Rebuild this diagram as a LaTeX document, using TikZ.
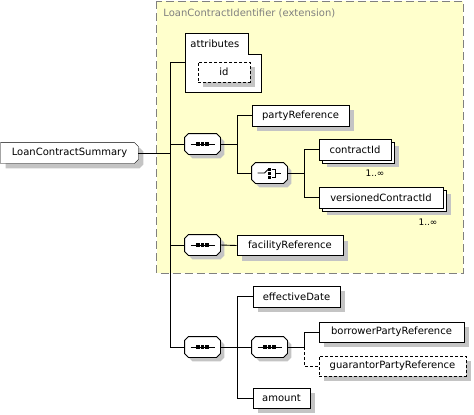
\documentclass[tikz,border=0pt]{standalone}
\usepackage{fontspec}
\setmainfont{DejaVu Sans}
\usetikzlibrary{calc,shadows,backgrounds}
\definecolor{ybg}{HTML}{FFFFCC}
\definecolor{shd}{HTML}{C4C4C4}
\definecolor{ttl}{HTML}{808080}
% octagon around a node: #1 node, #2 style, #3 offset
\newcommand\octbox[3]{%
  \path[#2] ($(#1.north west)+(0,4)+(#3)$) -- ($(#1.north west)+(4,0)+(#3)$) -- ($(#1.north east)+(-4,0)+(#3)$) -- ($(#1.north east)+(0,4)+(#3)$) -- ($(#1.south east)+(0,-4)+(#3)$) -- ($(#1.south east)+(-4,0)+(#3)$) -- ($(#1.south west)+(4,0)+(#3)$) -- ($(#1.south west)+(0,-4)+(#3)$) -- cycle;}
\newcommand\cmpbox[1]{\octbox{#1}{fill=shd}{4,4}\octbox{#1}{draw,fill=white}{0,0}}
\newcommand\seqsym[1]{%
  \cmpbox{#1}%
  \draw[line width=0.8pt] ($(#1.center)+(-12,0)$) -- ($(#1.center)+(12,0)$);
  \foreach \dx in {-4.5,0,4.5}{\fill ($(#1.center)+(\dx,0)+(-1.6,-1.6)$) rectangle ++(3.2,3.2);}}
\newcommand\chsym[1]{%
  \cmpbox{#1}%
  \draw[line width=0.8pt] ($(#1.center)+(-12,0)$) -- ($(#1.center)+(-5,0)$) -- ($(#1.center)+(-1.5,-3.5)$);
  \foreach \dy in {-4,0,4}{\fill ($(#1.center)+(0,\dy)+(-1.5,-1.5)$) rectangle ++(3,3);}
  \draw[line width=0.8pt] ($(#1.center)+(2,-4)$) -- ($(#1.center)+(6,-4)$) -- ($(#1.center)+(6,4)$) -- ($(#1.center)+(2,4)$);
  \draw[line width=0.8pt] ($(#1.center)+(6,0)$) -- ($(#1.center)+(11,0)$);}
\begin{document}
\begin{tikzpicture}[x=1pt,y=-1pt,line width=0.9pt,
  txt/.style={font=\fontsize{10}{12}\selectfont, text=black},
  elbase/.style={txt, draw, fill=white, minimum height=21pt, inner sep=0pt},
  el/.style={elbase, general shadow={fill=shd, shadow xshift=5pt, shadow yshift=-5pt}},
  multi/.style={elbase, general shadow={fill=shd, shadow xshift=8pt, shadow yshift=-7pt}, copy shadow={shadow xshift=3pt, shadow yshift=-3pt}},
  opt/.style={dash pattern=on 3pt off 2pt},
  cmp/.style={minimum width=35pt, minimum height=20pt, inner sep=0pt},
  card/.style={font=\fontsize{9}{10}\selectfont, text=black, inner sep=0pt}
]
\useasboundingbox (0,0) rectangle (474,415);
% extension box
\draw[draw=ttl, fill=ybg, line width=1pt, dash pattern=on 8pt off 4pt] (156.5,1) rectangle (463,273);
\node[anchor=west, font=\fontsize{10}{12}\selectfont, text=ttl, inner sep=0pt] (title) at (163,13) {LoanContractIdentifier (extension)};
% attributes
\draw[fill=white] (185,33) -- (248,33) -- (248,54) -- (261,54) -- (261,92) -- (185,92) -- cycle;
\node[txt, anchor=west, inner sep=0pt] (attrlbl) at (190,44) {attributes};
\coordinate (attr) at (185,62);
\node[el, opt, minimum width=52pt, minimum height=20pt] (id) at (224,72) {id};
% root
\node[txt, minimum width=137pt, minimum height=20pt, inner sep=0pt] (root) at (69.5,153) {LoanContractSummary};
\begin{scope}[on background layer]
\path[fill=shd] ($(root.north west)+(5,5)$) -- ($(root.north east)+(1,5)$) -- ($(root.north east)+(5,9)$) -- ($(root.south east)+(5,1)$) -- ($(root.south east)+(1,5)$) -- ($(root.south west)+(5,5)$) -- cycle;
\path[draw, fill=white] (root.north west) -- ($(root.north east)+(-4,0)$) -- ($(root.north east)+(0,4)$) -- ($(root.south east)+(0,-4)$) -- ($(root.south east)+(-4,0)$) -- (root.south west) -- cycle;
\end{scope}
% compositors
\node[cmp] (s1) at (202.5,144) {};
\node[cmp] (ch) at (269.5,173) {};
\node[cmp] (s2) at (202.5,245) {};
\node[cmp] (s3) at (202.5,347) {};
\node[cmp] (s4) at (269.5,347) {};
\seqsym{s1}\seqsym{s2}\seqsym{s3}\seqsym{s4}\chsym{ch}
% elements
\node[el, minimum width=97pt] (party) at (300.5,115.5) {partyReference};
\node[multi, minimum width=72pt] (cid) at (355,149.5) {contractId};
\node[multi, minimum width=124pt] (vcid) at (381,197.5) {versionedContractId};
\node[card] (c1) at (375,173) {1..∞};
\node[card] (c2) at (428,222) {1..∞};
\node[el, minimum width=106pt, minimum height=20pt] (fac) at (290,245.5) {facilityReference};
\node[el, minimum width=87pt] (eff) at (296.5,296.5) {effectiveDate};
\node[el, minimum width=145pt, minimum height=20pt] (bor) at (391.5,332) {borrowerPartyReference};
\node[el, opt, minimum width=147pt, minimum height=20pt] (gua) at (392.5,366) {guarantorPartyReference};
\node[el, minimum width=57pt, minimum height=20pt] (amt) at (281.5,398) {amount};
% connectors
\coordinate (v1) at (170,62);
\coordinate (v2) at (237,0);
\coordinate (v3) at (304,0);
\draw (root.east) -- (root.east -| v1);
\draw (v1) -- (s3.west -| v1);
\draw (v1) -- (attr);
\draw (s1.west -| v1) -- (s1.west);
\draw (s2.west -| v1) -- (s2.west);
\draw (s3.west -| v1) -- (s3.west);
% seq1
\draw (s1.east) -- (s1.east -| v2);
\draw (party.west) -| (v2 |- ch.west) -- (ch.west);
% choice
\draw (ch.east) -- (ch.east -| v3);
\draw (cid.west) -| (v3 |- vcid.west) -- (vcid.west);
% seq2
\draw (s2.east) -- (fac.west);
% seq3
\draw (s3.east) -- (s3.east -| v2);
\draw (eff.west) -| (v2 |- amt.west) -- (amt.west);
\draw (s4.west -| v2) -- (s4.west);
% seq4
\draw (s4.east) -- (s4.east -| v3);
\draw (bor.west) -| (v3 |- s4.east);
\draw[opt] (v3 |- s4.east) |- (gua.west);
\end{tikzpicture}
\end{document}
